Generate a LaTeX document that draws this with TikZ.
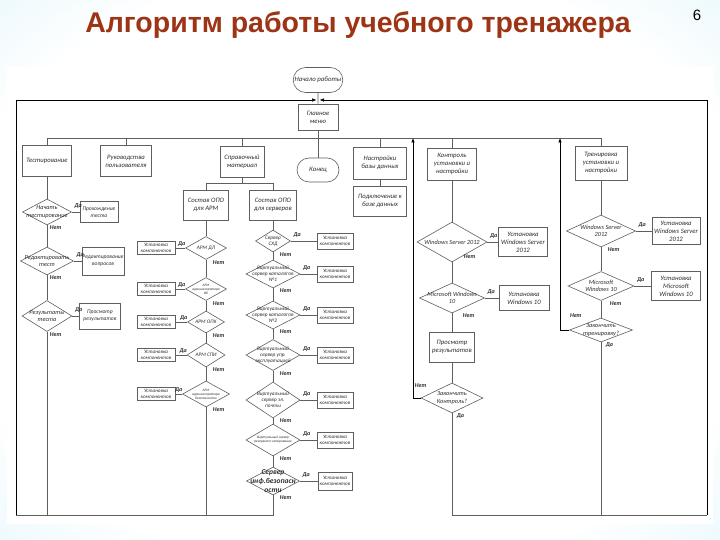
\documentclass[tikz,border=0pt]{standalone}
\usepackage{fontspec}
\setmainfont{Carlito}
\newfontfamily\titlefont{Liberation Sans}
\usetikzlibrary{arrows.meta,shapes.geometric,shapes.misc}

\definecolor{titlered}{RGB}{158,52,22}
\definecolor{flowline}{RGB}{95,95,95}
\definecolor{flowtext}{RGB}{45,45,45}
\definecolor{slideblue}{RGB}{178,230,246}
\pgfdeclareradialshading{slidebg}{\pgfpoint{0bp}{0bp}}{color(0bp)=(white); color(28bp)=(white); color(62bp)=(slideblue)}

\tikzset{
  block/.style={rectangle, draw=flowline, line width=0.6pt, fill=white, align=center,
    inner sep=0.5pt, text=flowtext, font=\itshape\fontsize{6.7}{8}\selectfont},
  subblock/.style={block, font=\itshape\fontsize{5.6}{7}\selectfont},
  compblock/.style={block, font=\itshape\fontsize{5.1}{5.9}\selectfont},
  terminal/.style={rounded rectangle, draw=flowline, line width=0.6pt, fill=white,
    inner sep=1pt, text=flowtext, font=\itshape\fontsize{6.8}{8}\selectfont},
  dshape/.style={diamond, aspect=2, draw=flowline, line width=0.6pt, fill=white, inner sep=0pt},
  dlabel/.style={align=center, inner sep=0pt, text=flowtext,
    font=\itshape\fontsize{6.3}{7.3}\selectfont},
  decision/.style={dshape, label={[dlabel]center:{#1}}},
  sdecision/.style={dshape, label={[dlabel, font=\itshape\fontsize{5.3}{6.2}\selectfont]center:{#1}}},
  tdecision/.style={dshape, label={[dlabel, font=\itshape\fontsize{3.5}{4.1}\selectfont]center:{#1}}},
  bdecision/.style={dshape, label={[dlabel, font=\bfseries\itshape\fontsize{7.5}{8.6}\selectfont]center:{#1}}},
  bw/.style 2 args={minimum width=#1pt, minimum height=#2pt},
  ans/.style={inner sep=0.5pt, text=flowtext, font=\bfseries\itshape\fontsize{6}{6}\selectfont},
  yesr/.style={ans, at start, anchor=south west, xshift=2pt, yshift=3pt},
  yesl/.style={ans, at start, anchor=south east, xshift=1pt, yshift=1pt},
  nor/.style={ans, at start, anchor=north west, xshift=#1},
  nor/.default=6pt,
  link/.style={draw=flowline, line width=0.6pt},
  back/.style={draw=black, line width=0.6pt, -{Latex[length=4.5pt,width=3.5pt]}},
}

\begin{document}
\begin{tikzpicture}[x=1pt,y=-1pt]
\useasboundingbox (0,0) rectangle (720,540);
\shade[shading=slidebg] (0,0) rectangle (720,540);
\fill[white] (7,67) rectangle (713,524);

\node[font=\titlefont\bfseries\fontsize{28.5}{30}\selectfont, text=titlered, anchor=base] (title) at (358,33) {Алгоритм работы учебного тренажера};
\node[font=\titlefont\fontsize{15}{18}\selectfont, anchor=base] (page) at (697,21) {6};

\node[terminal, bw={49}{25}] (start) at (318,80) {Начало работы};
\node[block, bw={40}{26}] (menu) at (318,117) {Главное\\меню};
\node[block, bw={49}{31}] (test) at (47,161) {Тестирование};
\node[block, bw={51}{31}] (guide) at (126,161) {Руководства\\пользователя};
\node[block, bw={44}{31}] (ref) at (242,162) {Справочный\\материал};
\node[terminal, bw={44}{24}] (stop) at (318,170) {Конец};
\node[block, bw={53}{32}] (dbset) at (380,163) {Настройки\\базы данных};
\node[block, bw={49}{32}] (ctrl) at (452,164) {Контроль\\установки и\\настройки};
\node[block, bw={52}{34}] (train) at (601,163) {Тренировка\\установки и\\настройки};
\node[block, bw={53}{30}] (dbconn) at (380,201) {Подключение к\\базе данных};

\node[decision={Начать\\тестирование}, bw={49}{26}] (t1) at (47,212) {};
\node[subblock, bw={38}{21}] (tb1) at (99,212) {Прохождение\\теста};
\node[decision={Редактировать\\тест}, bw={53}{28}] (t2) at (47,261) {};
\node[subblock, bw={40}{28}] (tb2) at (103,261) {Редактирование\\вопросов};
\node[decision={Результаты\\теста}, bw={50}{31}] (t3) at (47,316) {};
\node[subblock, bw={41}{26}] (tb3) at (100,316) {Просмотр\\результатов};

\node[block, bw={45}{30}] (armset) at (206,205) {Состав ОПО\\для АРМ};
\node[sdecision={АРМ ДЛ}, bw={41}{23}] (a1) at (206,248) {};
\node[compblock, bw={38}{13}] (ab1) at (156,248) {Установка\\компонентов};
\node[tdecision={АРМ\\администратора\\ИБ}, bw={41}{23}] (a2) at (206,289) {};
\node[compblock, bw={38}{13}] (ab2) at (156,289) {Установка\\компонентов};
\node[sdecision={АРМ ОПК}, bw={37}{22}] (a3) at (206,322) {};
\node[compblock, bw={38}{13}] (ab3) at (156,322) {Установка\\компонентов};
\node[sdecision={АРМ СПИ}, bw={38}{24}] (a4) at (206,355) {};
\node[compblock, bw={38}{13}] (ab4) at (156,355) {Установка\\компонентов};
\node[tdecision={АРМ\\администратора\\безопасности}, bw={47}{26}] (a5) at (206,394) {};
\node[compblock, bw={38}{13}] (ab5) at (156,394) {Установка\\компонентов};

\node[block, bw={47}{30}] (srvset) at (273,205) {Состав ОПО\\для серверов};
\node[sdecision={Сервер\\СХД}, bw={35}{22}] (s1) at (273,241) {};
\node[compblock, bw={36}{16}] (sb1) at (335,241) {Установка\\компонентов};
\node[sdecision={Виртуальный\\сервер каталогов\\№1}, bw={54}{28}] (s2) at (273,274) {};
\node[compblock, bw={36}{16}] (sb2) at (335,274) {Установка\\компонентов};
\node[sdecision={Виртуальный\\сервер каталогов\\№2}, bw={54}{28}] (s3) at (273,315) {};
\node[compblock, bw={36}{16}] (sb3) at (335,315) {Установка\\компонентов};
\node[sdecision={Виртуальный\\сервер упр.\\эксплуатацией}, bw={54}{31}] (s4) at (273,355) {};
\node[compblock, bw={36}{16}] (sb4) at (335,355) {Установка\\компонентов};
\node[sdecision={Виртуальный\\сервер эл.\\почты}, bw={54}{36}] (s5) at (273,400) {};
\node[compblock, bw={36}{16}] (sb5) at (335,400) {Установка\\компонентов};
\node[tdecision={Виртуальный сервер\\резервного копирования}, bw={54}{32}] (s6) at (273,440) {};
\node[compblock, bw={36}{16}] (sb6) at (335,440) {Установка\\компонентов};
\node[bdecision={Сервер\\инф.безопасн\\ости}, bw={53}{28}] (s7) at (273,481) {};
\node[compblock, bw={34}{18}] (sb7) at (335,481) {Установка\\компонентов};

\node[decision={Windows Server 2012}, bw={70}{40}] (c1) at (452,242) {};
\node[block, bw={49}{29}] (cb1) at (523,242) {Установка\\Windows Server\\2012};
\node[decision={Microsoft Windows\\10}, bw={65}{30}] (c2) at (452,298) {};
\node[block, bw={50}{25}] (cb2) at (524,298) {Установка\\Windows 10};
\node[block, bw={45}{30}] (cview) at (452,347) {Просмотр\\результатов};
\node[decision={Закончить\\Контроль?}, bw={62}{30}] (c3) at (452,398) {};

\node[decision={Windows Server\\2012}, bw={69}{32}] (r1) at (601,231) {};
\node[block, bw={48}{27}] (rb1) at (676,231) {Установка\\Windows Server\\2012};
\node[decision={Microsoft\\Windows 10}, bw={66}{29}] (r2) at (601,286) {};
\node[block, bw={49}{29}] (rb2) at (676,286) {Установка\\Microsoft\\Windows 10};
\node[decision={Закончить\\тренировку?}, bw={63}{24}] (r3) at (601,330) {};

\coordinate (join) at (318,100);
\coordinate (split) at (318,138);
\coordinate (refsplit) at (242,183);
\coordinate (loopL) at (16,515);
\coordinate (loopR) at (707,515);
\coordinate (ctrlback) at (413,138);
\coordinate (trainback) at (560,138);

\draw[link] (start) -- (menu);
\draw[back, shorten >=1.5pt] (loopL) |- (join);
\draw[back, shorten >=1.5pt] (loopR) |- (join);
\draw[link] (menu) -- (stop);
\draw[link] (test) -- (test |- split) -- (train |- split) -- (train);
\draw[link] (guide) -- (guide |- split);
\draw[link] (ref) -- (ref |- split);
\draw[link] (dbset) -- (dbset |- split);
\draw[link] (ctrl) -- (ctrl |- split);
\draw[link] (dbset) -- (dbconn);
\draw[link] (ref) -- (refsplit);
\draw[link] (armset) -- (armset |- refsplit) -- (srvset |- refsplit) -- (srvset);

\draw[link] (test) -- (t1);
\draw[link] (t1) -- node[yesr]{Да} (tb1);
\draw[link] (t1) -- node[nor=2pt]{Нет} (t2);
\draw[link] (t2) -- node[yesr]{Да} (tb2);
\draw[link] (t2) -- node[nor=2pt]{Нет} (t3);
\draw[link] (t3) -- node[yesr]{Да} (tb3);
\draw[link] (t3) -- node[nor=2pt]{Нет} (t3 |- loopL);

\draw[link] (armset) -- (a1);
\draw[link] (a1) -- node[yesl]{Да} (ab1);
\draw[link] (a1) -- node[nor]{Нет} (a2);
\draw[link] (a2) -- node[yesl]{Да} (ab2);
\draw[link] (a2) -- node[nor]{Нет} (a3);
\draw[link] (a3) -- node[yesl]{Да} (ab3);
\draw[link] (a3) -- node[nor]{Нет} (a4);
\draw[link] (a4) -- node[yesl]{Да} (ab4);
\draw[link] (a4) -- node[nor]{Нет} (a5);
\draw[link] (a5) -- node[yesl]{Да} (ab5);
\draw[link] (a5) -- node[nor]{Нет} (a5 |- loopL);

\draw[link] (srvset) -- (s1);
\draw[link] (s1) -- node[yesr]{Да} (sb1);
\draw[link] (s1) -- node[nor]{Нет} (s2);
\draw[link] (s2) -- node[yesr]{Да} (sb2);
\draw[link] (s2) -- node[nor]{Нет} (s3);
\draw[link] (s3) -- node[yesr]{Да} (sb3);
\draw[link] (s3) -- node[nor]{Нет} (s4);
\draw[link] (s4) -- node[yesr]{Да} (sb4);
\draw[link] (s4) -- node[nor]{Нет} (s5);
\draw[link] (s5) -- node[yesr]{Да} (sb5);
\draw[link] (s5) -- node[nor]{Нет} (s6);
\draw[link] (s6) -- node[yesr]{Да} (sb6);
\draw[link] (s6) -- node[nor]{Нет} (s7);
\draw[link] (s7) -- node[yesr]{Да} (sb7);
\draw[link] (s7) -- node[nor]{Нет} (s7 |- loopL) -- (loopL);

\draw[link] (ctrl) -- (c1);
\draw[link] (c1) -- node[yesr]{Да} (cb1);
\draw[link] (c1) -- node[ans, at start, anchor=south west, xshift=11pt, yshift=3pt]{Нет} (c2);
\draw[link] (c2) -- node[yesr]{Да} (cb2);
\draw[link] (c2) -- node[nor=10pt]{Нет} (cview);
\draw[link] (cview) -- (c3);
\draw[back] (c3) -| node[ans, at start, anchor=south, yshift=10pt]{Нет} (ctrlback);
\draw[link] (c3) -- node[nor=4pt]{Да} (c3 |- loopR) -- (loopR);

\draw[link] (train) -- (r1);
\draw[link] (r1) -- node[yesr]{Да} (rb1);
\draw[link] (r1) -- node[nor]{Нет} (r2);
\draw[link] (r2) -- node[yesr]{Да} (rb2);
\draw[link] (r2) -- node[nor=8pt]{Нет} (r3);
\draw[back] (r3) -| node[ans, at start, anchor=south west, yshift=12pt]{Нет} (trainback);
\draw[link] (r3) -- node[nor=4pt]{Да} (r3 |- loopR);
\end{tikzpicture}
\end{document}
